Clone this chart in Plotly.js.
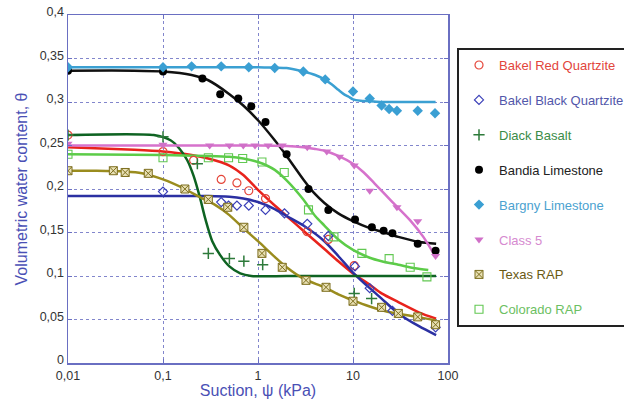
<!DOCTYPE html>
<html>
<head>
<meta charset="utf-8">
<script src="https://cdn.plot.ly/plotly-3.0.1.min.js"></script>
<style>html,body{margin:0;padding:0;background:#fff;}#chart{width:624px;height:404px;}</style>
</head>
<body>
<div id="chart"></div>
<script>
// ---- Series names ----
const seriesNames = ["Bakel Red Quartzite","Bakel Black Quartzite","Diack Basalt","Bandia Limestone","Bargny Limestone","Class 5","Texas RAP","Colorado RAP"];

// ---- Measured points (suction kPa, volumetric water content) ----
const redPtsX   = [0.01,0.1,0.21,0.41,0.6,0.8,1.2,3.3,5.5,10.3];
const redPtsY   = [0.262,0.243,0.233,0.211,0.207,0.198,0.189,0.151,0.142,0.112];
const blackQPtsX = [0.1,0.41,0.49,0.6,0.8,1.2,1.9,3.3,5.5,10.5,15,26,74];
const blackQPtsY = [0.197,0.185,0.181,0.181,0.181,0.176,0.172,0.16,0.146,0.111,0.086,0.06,0.041];
const diackPtsX = [0.01,0.1,0.23,0.3,0.5,0.71,1.12,10.3,15.7];
const diackPtsY = [0.262,0.26,0.229,0.126,0.12,0.117,0.113,0.08,0.074];
const bandiaPtsX = [0.01,0.1,0.26,0.4,0.62,0.85,1.2,2.0,3.4,5.5,10.5,15.8,21,26,48,74];
const bandiaPtsY = [0.336,0.335,0.327,0.309,0.304,0.295,0.277,0.24,0.2,0.176,0.165,0.156,0.152,0.149,0.137,0.129];
const bargnyPtsX = [0.01,0.1,0.2,0.41,0.8,1.5,3.0,5.1,10,15,20,24,29,48,73];
const bargnyPtsY = [0.34,0.34,0.341,0.341,0.34,0.339,0.335,0.326,0.312,0.304,0.296,0.292,0.29,0.29,0.287];
const class5PtsX = [0.01,0.1,0.31,0.5,0.7,0.93,1.28,1.8,3.3,5.3,7.2,10.3,15,29,48,74];
const class5PtsY = [0.252,0.251,0.25,0.25,0.25,0.25,0.25,0.25,0.248,0.243,0.237,0.227,0.198,0.179,0.163,0.123];
const texasPtsX = [0.01,0.03,0.04,0.07,0.17,0.3,0.48,0.71,1.1,1.8,3.2,5.2,10,20,30,48,74];
const texasPtsY = [0.221,0.221,0.219,0.218,0.2,0.188,0.179,0.156,0.126,0.11,0.095,0.087,0.071,0.064,0.057,0.053,0.044];
const coloradoPtsX = [0.01,0.1,0.3,0.49,0.69,1.1,1.89,3.4,6.3,12.4,24,40,60];
const coloradoPtsY = [0.24,0.236,0.236,0.236,0.235,0.231,0.219,0.176,0.145,0.126,0.12,0.11,0.099];

// ---- Fitted curves ----
const redFitX = [0.01,0.05,0.1,0.2,0.3,0.5,0.7,1,1.5,2,3,5,7,10,15,20,30,50,75];
const redFitY = [0.248,0.245,0.243,0.239,0.235,0.227,0.216,0.199,0.181,0.169,0.152,0.131,0.117,0.103,0.09,0.08,0.07,0.058,0.051];
const blackQFitX = [0.01,0.1,0.3,0.5,0.7,1,1.5,2,3,5,7,10,15,20,30,50,75];
const blackQFitY = [0.192,0.192,0.192,0.191,0.189,0.185,0.177,0.169,0.158,0.14,0.123,0.104,0.086,0.074,0.057,0.042,0.032];
const diackFitX = [0.01,0.08,0.12,0.15,0.18,0.21,0.245,0.28,0.33,0.4,0.5,0.65,0.85,2,10,75];
const diackFitY = [0.262,0.262,0.256,0.246,0.233,0.215,0.19,0.165,0.14,0.124,0.111,0.103,0.1,0.1,0.1,0.1];
const bandiaFitX = [0.01,0.05,0.1,0.2,0.3,0.5,0.7,1,1.5,2,3,4,5,7,10,15,20,30,50,75];
const bandiaFitY = [0.336,0.336,0.335,0.331,0.325,0.309,0.296,0.279,0.256,0.238,0.211,0.194,0.184,0.172,0.163,0.155,0.151,0.145,0.139,0.137];
const bargnyFitX = [0.01,0.1,1,1.5,2,3,4,5,6,7,8,9,10,12,15,20,30,50,74];
const bargnyFitY = [0.34,0.34,0.34,0.3395,0.339,0.335,0.331,0.326,0.32,0.314,0.309,0.306,0.303,0.3015,0.301,0.3,0.3,0.3,0.3];
const class5FitX = [0.01,0.1,1,2,3,4,5,7,10,13,17,26,40,55,75];
const class5FitY = [0.25,0.25,0.25,0.2495,0.248,0.246,0.244,0.238,0.229,0.219,0.206,0.185,0.164,0.145,0.121];
const texasFitX = [0.01,0.02,0.04,0.06,0.1,0.17,0.25,0.35,0.5,0.7,1,1.5,2,3,5,7,10,15,23,47,75];
const texasFitY = [0.221,0.221,0.22,0.218,0.211,0.2,0.19,0.182,0.17,0.155,0.14,0.122,0.11,0.097,0.087,0.079,0.072,0.065,0.059,0.053,0.049];
const coloradoFitX = [0.01,0.1,0.3,0.5,0.7,1,1.5,2,3,4,5,7,10,15,20,30,45,62];
const coloradoFitY = [0.24,0.239,0.238,0.237,0.235,0.231,0.222,0.21,0.188,0.169,0.158,0.142,0.13,0.121,0.117,0.113,0.109,0.107];

// ---- Tick labels ----
const xTickVals = [0.01,0.1,1,10,100];
const xTickText = ["0,01","0,1","1","10","100"];
const yTickVals = [0,0.05,0.1,0.15,0.2,0.25,0.3,0.35,0.4];
const yTickText = ["0","0,05","0,1","0,15","0,2","0,25","0,3","0,35","0,4"];

// ---- Styles ----
const ptsX = [redPtsX,blackQPtsX,diackPtsX,bandiaPtsX,bargnyPtsX,class5PtsX,texasPtsX,coloradoPtsX];
const ptsY = [redPtsY,blackQPtsY,diackPtsY,bandiaPtsY,bargnyPtsY,class5PtsY,texasPtsY,coloradoPtsY];
const fitX = [redFitX,blackQFitX,diackFitX,bandiaFitX,bargnyFitX,class5FitX,texasFitX,coloradoFitX];
const fitY = [redFitY,blackQFitY,diackFitY,bandiaFitY,bargnyFitY,class5FitY,texasFitY,coloradoFitY];
const lineColors = ["#e8231c","#2b30a2","#0e6322","#111111","#3ba0d2","#d672cc","#9a8c1e","#5ccc48"];
const textColors = ["#e2453c","#5257aa","#3b8c47","#222222","#4ba2d0","#d68ad0","#6a5a14","#6cc062"];
const markers = [
  {symbol:"circle-open", color:"#e5463a", size:8, line:{width:1.2, color:"#e5463a"}},
  {symbol:"diamond-open", color:"#3a3fb8", size:7, line:{width:1.2, color:"#3a3fb8"}},
  {symbol:"cross-thin-open", color:"#2d7a3a", size:8, line:{width:1.5, color:"#2d7a3a"}},
  {symbol:"circle", color:"#000000", size:8, line:{width:0}},
  {symbol:"diamond", color:"#3a9fd3", size:8, line:{width:0}},
  {symbol:"triangle-down", color:"#d070c8", size:8, line:{width:0}},
  {symbol:"square-x", color:"#e8e0b4", size:8, line:{width:1, color:"#7d6e1e"}},
  {symbol:"square-open", color:"#62c852", size:8, line:{width:1.1, color:"#62c852"}}
];

const traces = [];
for (let i = 0; i < seriesNames.length; i++) {
  traces.push({
    x: fitX[i], y: fitY[i], type: "scatter", mode: "lines",
    line: {color: lineColors[i], width: 2.5, shape: "spline", smoothing: 0.7},
    showlegend: false, hoverinfo: "skip"
  });
}
for (let i = 0; i < seriesNames.length; i++) {
  traces.push({
    x: ptsX[i], y: ptsY[i], type: "scatter", mode: "markers",
    name: '<span style="color:' + textColors[i] + '">' + seriesNames[i] + '</span>',
    legendgroup: "g" + i,
    marker: markers[i]
  });
}

const axisColor = "#6a6fc2";
const gridColor = "#8286cc";
const layout = {
  width: 624, height: 404,
  margin: {l: 68, r: 176, t: 15, b: 41, autoexpand: false},
  paper_bgcolor: "#ffffff", plot_bgcolor: "#ffffff",
  font: {family: "Liberation Sans, Arial, sans-serif", size: 13, color: "#333333"},
  xaxis: {
    type: "log", range: [-2, 2],
    tickvals: xTickVals, ticktext: xTickText,
    showgrid: true, gridcolor: gridColor, griddash: "dot", gridwidth: 1,
    showline: true, linecolor: axisColor, linewidth: 1.5, mirror: "ticks",
    ticks: "inside", ticklen: 4, tickcolor: axisColor,
    zeroline: false,
    tickfont: {size: 12.5, color: "#333333"},
    title: {text: "Suction, ψ (kPa)", font: {size: 16, color: "#4a50b5"}, standoff: 2}
  },
  yaxis: {
    range: [0, 0.4],
    tickvals: yTickVals, ticktext: yTickText,
    showgrid: true, gridcolor: gridColor, griddash: "dot", gridwidth: 1,
    showline: true, linecolor: axisColor, linewidth: 1.5, mirror: "ticks",
    ticks: "inside", ticklen: 4, tickcolor: axisColor,
    zeroline: false,
    ticklabelshift: -3,
    tickfont: {size: 12.5, color: "#333333"},
    title: {text: "Volumetric water content, θ", font: {size: 16, color: "#4a50b5"}, standoff: 8}
  },
  legend: {
    x: 1.0237, y: 0.905, xanchor: "left", yanchor: "top",
    bgcolor: "#ffffff", bordercolor: "#222222", borderwidth: 2,
    font: {size: 13},
    tracegroupgap: 15
  },
  showlegend: true
};

Plotly.newPlot("chart", traces, layout, {staticPlot: true, displayModeBar: false});
</script>
</body>
</html>
